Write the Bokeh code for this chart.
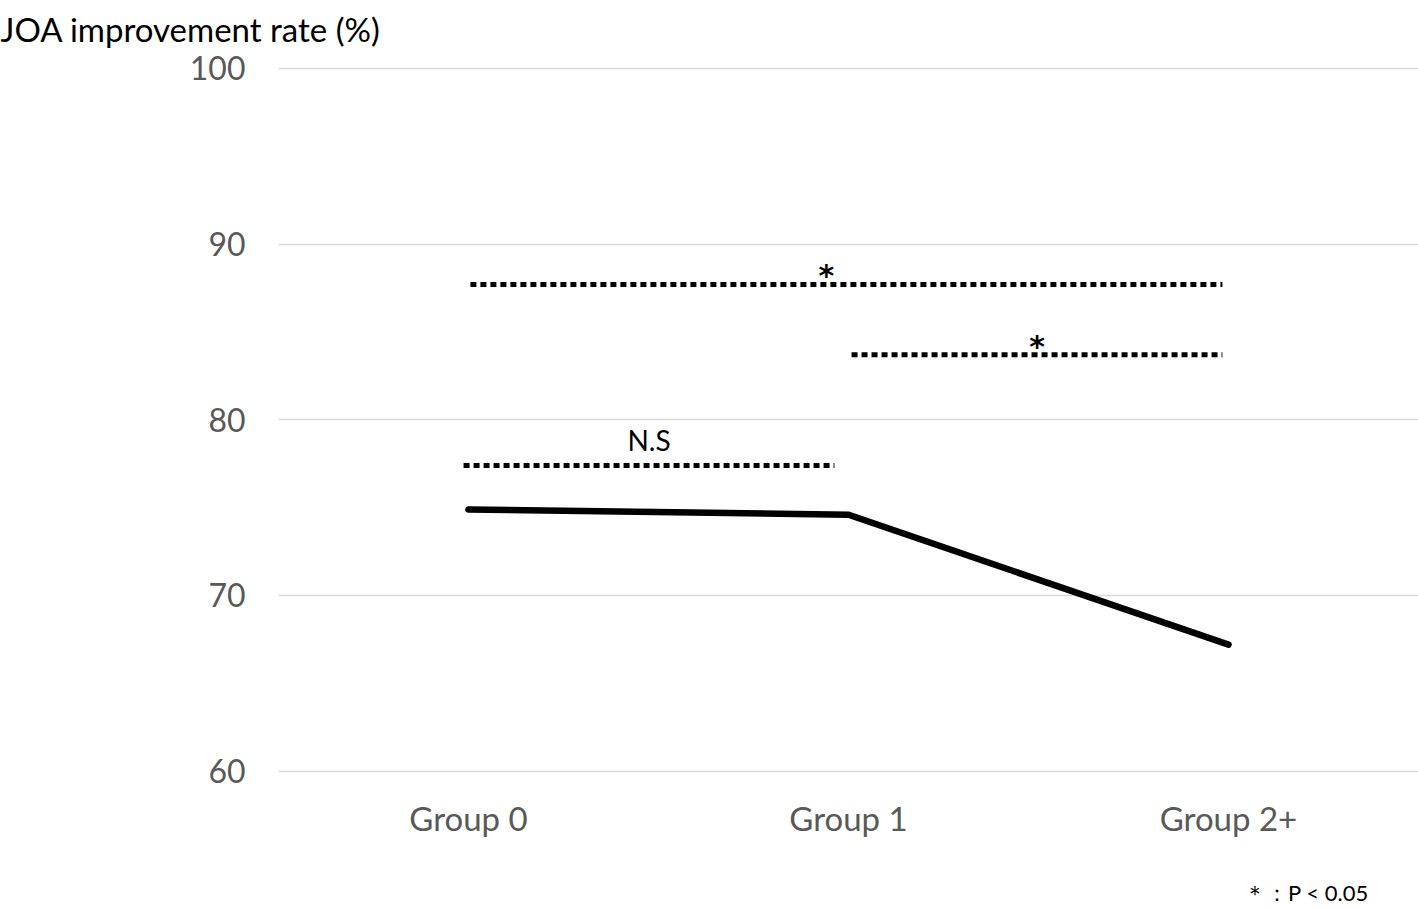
from bokeh.plotting import figure
from bokeh.models import Range1d, FixedTicker, Label, LinearAxis
from bokeh.embed import file_html
from bokeh.resources import INLINE

# ---- data ----
categories = ["Group 0", "Group 1", "Group 2+"]
joa_rate = [74.9, 74.6, 67.2]
y_ticks = [60, 70, 80, 90, 100]

# significance brackets (start / end in category-index units, y level, label)
bracket_start = [-0.013, 1.008, 0.005]
bracket_end = [0.963, 1.984, 1.984]
bracket_y = [77.4, 83.7, 87.7]
bracket_label = ["N.S", "*", "*"]
label_shift = [0, 0, -20]

footnote = "＊：P < 0.05"

FONT = "Lato"
x_pos = [i + 0.5 for i in range(len(categories))]

p = figure(width=1418, height=908, output_backend="svg", toolbar_location=None,
           x_range=Range1d(0, 3), y_range=Range1d(59.7, 100.5),
           min_border_left=278, min_border_right=0, min_border_top=59,
           min_border_bottom=132)
p.outline_line_color = None
p.background_fill_color = "white"
p.border_fill_color = "white"

# axes
p.xaxis.ticker = FixedTicker(ticks=x_pos)
p.xaxis.major_label_overrides = {x: c for x, c in zip(x_pos, categories)}
p.yaxis.ticker = FixedTicker(ticks=y_ticks)
for ax in (p.xaxis[0], p.yaxis[0]):
    ax.axis_line_color = None
    ax.major_tick_line_color = None
    ax.minor_tick_line_color = None
    ax.major_label_text_font = FONT
    ax.major_label_text_color = "#595959"
p.xaxis.major_label_text_font_size = "33px"
p.yaxis.major_label_text_font_size = "32px"
p.xaxis.major_label_standoff = 15
p.yaxis.major_label_standoff = 27
p.xgrid.grid_line_color = None
p.ygrid.ticker = FixedTicker(ticks=y_ticks)
p.ygrid.grid_line_color = "#d9d9d9"
p.ygrid.grid_line_width = 1.5

# footnote as a single label on a secondary bottom axis
fn_x = 2.705
fn_axis = LinearAxis(ticker=FixedTicker(ticks=[fn_x]),
                     major_label_overrides={fn_x: footnote},
                     axis_line_color=None, major_tick_line_color=None,
                     minor_tick_line_color=None, major_label_standoff=32,
                     major_label_text_font=FONT, major_label_text_font_size="22px",
                     major_label_text_color="black")
p.add_layout(fn_axis, "below")

# main line
p.line(x_pos, joa_rate, line_color="black", line_width=6.5,
       line_cap="round", line_join="miter")

# brackets
bx0 = [s + 0.5 for s in bracket_start]
bx1 = [e + 0.5 for e in bracket_end]
p.segment(x0=bx0, y0=bracket_y, x1=bx1, y1=bracket_y, line_color="black",
          line_width=5, line_dash="6 4", line_cap="butt")

for s, e, yv, lab, dx in zip(bx0, bx1, bracket_y, bracket_label, label_shift):
    if lab == "*":
        p.add_layout(Label(x=(s + e) / 2, y=yv, text=lab, text_font="DejaVu Sans",
                           text_font_size="30px", text_font_style="bold",
                           text_color="black", text_align="center",
                           text_baseline="bottom", y_offset=-9, x_offset=dx))
    else:
        p.add_layout(Label(x=(s + e) / 2, y=yv, text=lab, text_font=FONT,
                           text_font_size="28px", text_color="black",
                           text_align="center", text_baseline="bottom",
                           y_offset=8, x_offset=dx))

# y-axis title (top left)
p.title.text = "JOA improvement rate (%)"
p.title.align = "left"
p.title.offset = -278
p.title.standoff = 17
p.title.vertical_align = "top"
p.title.text_font = FONT
p.title.text_font_size = "33px"
p.title.text_font_style = "normal"
p.title.text_color = "black"

open("out.html", "w").write(file_html(p, INLINE))
